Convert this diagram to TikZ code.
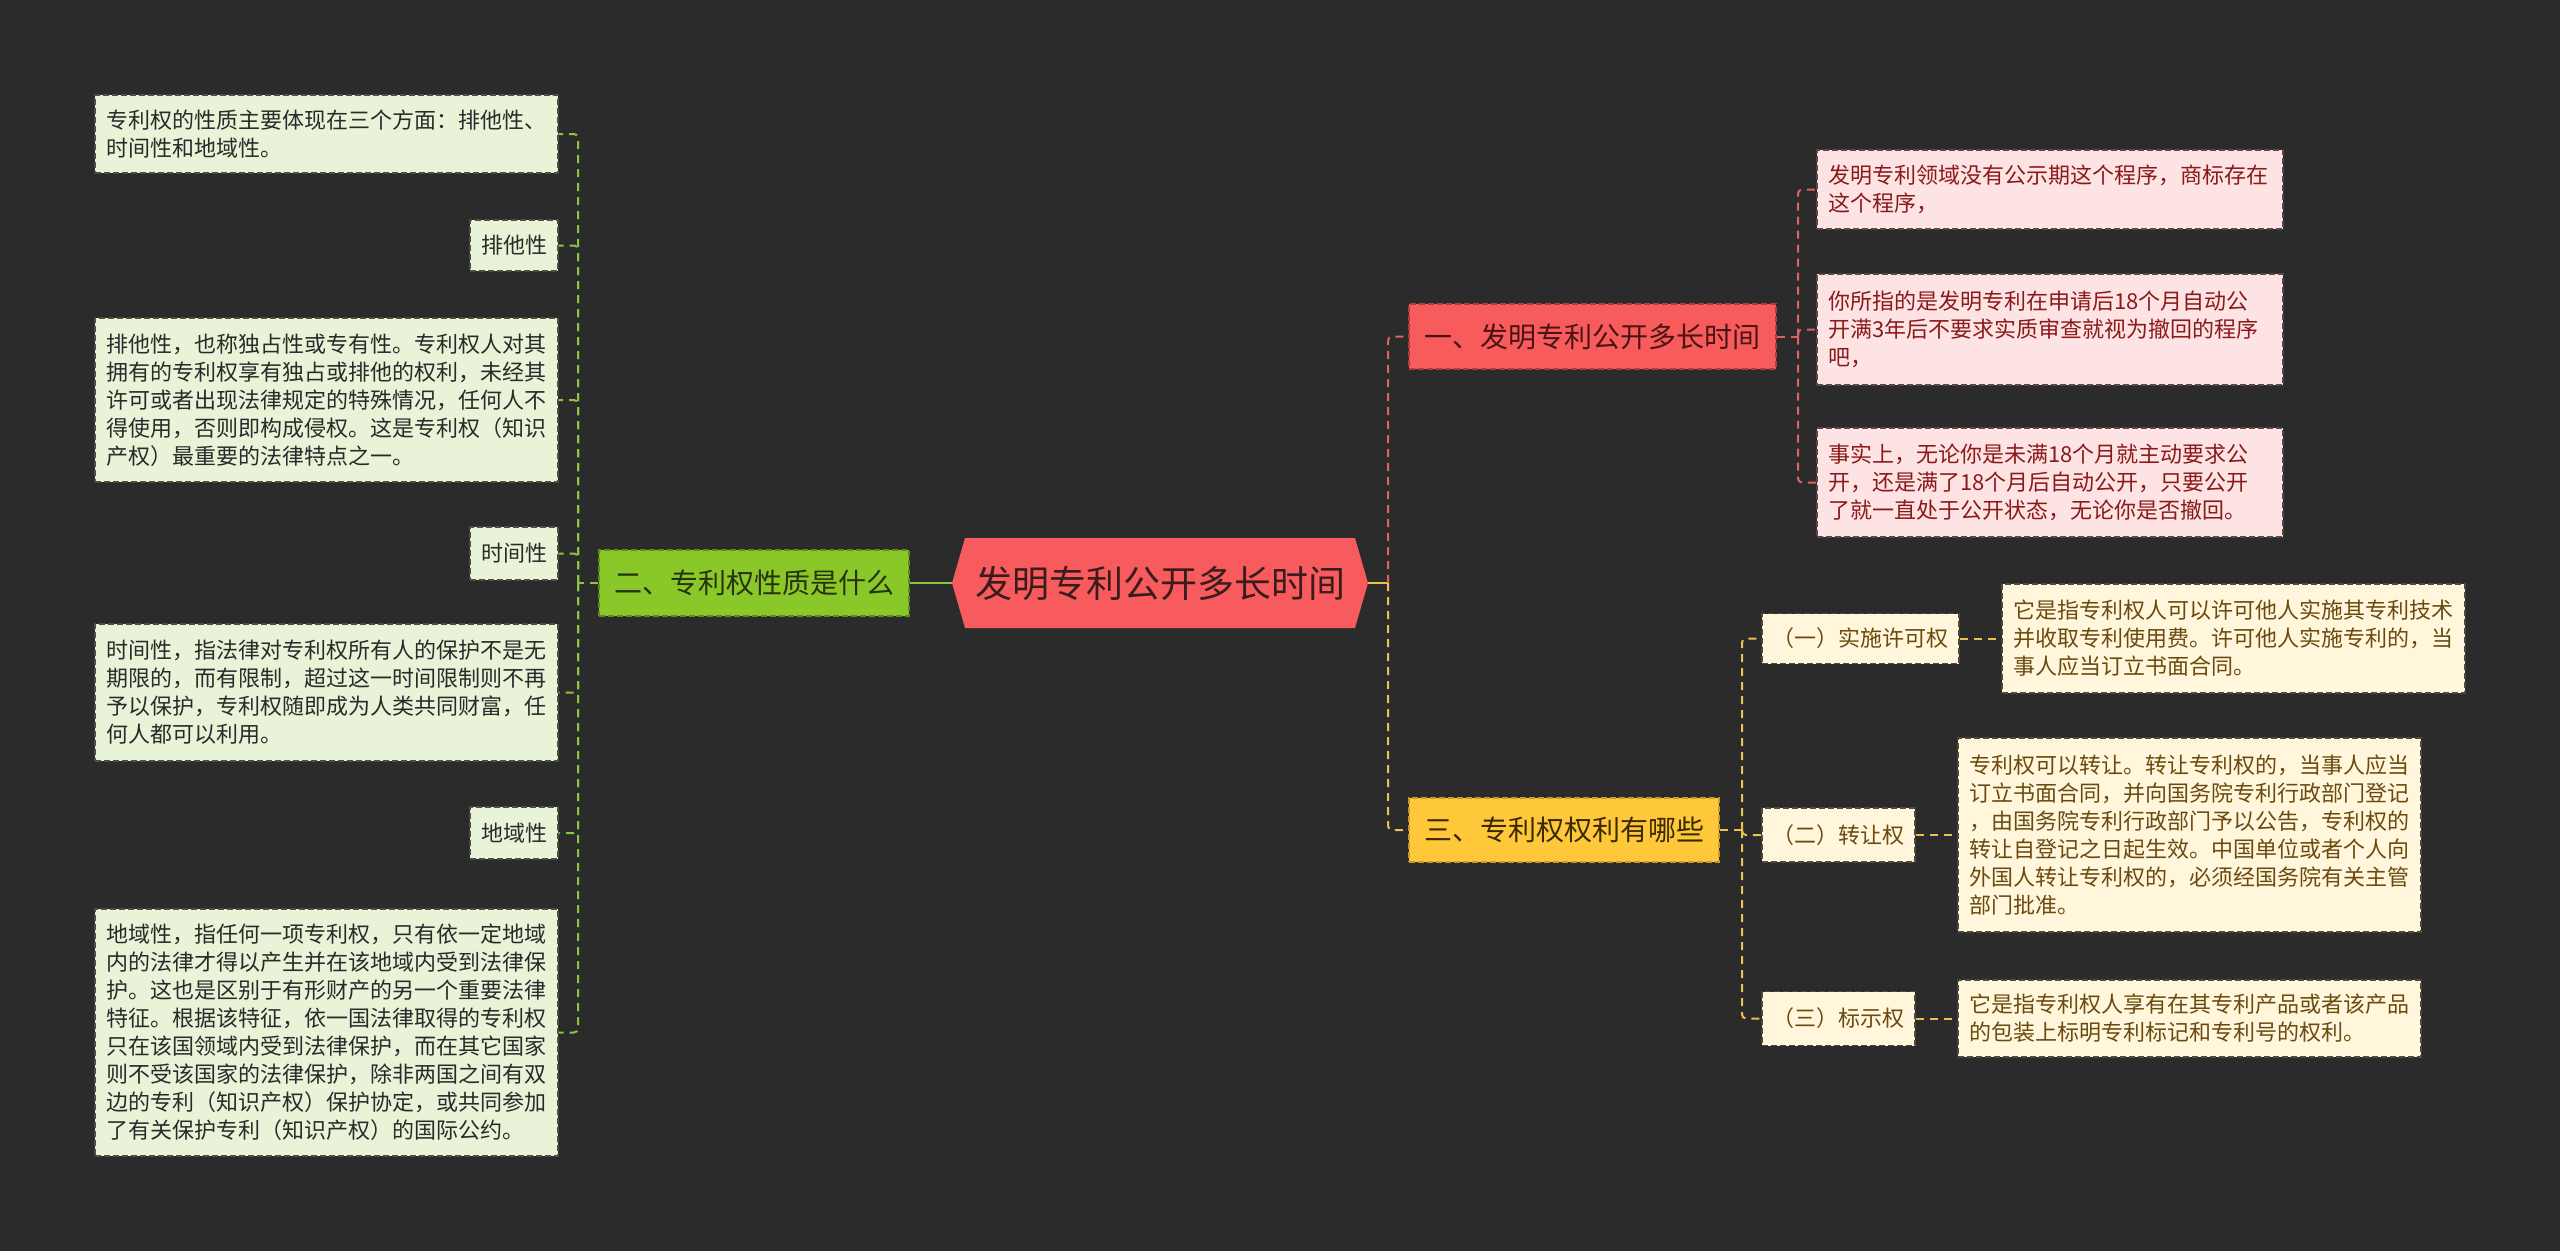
\documentclass[tikz,border=0pt]{standalone}
\usepackage{fontspec}
\setmainfont{Noto Sans CJK SC}
\usepackage{xcolor}
\usepackage{tikz}
\usetikzlibrary{calc}
\definecolor{bg}{HTML}{2B2B2B}
\definecolor{rootfill}{HTML}{F75B5D}
\definecolor{roottext}{HTML}{3A1C1C}
\definecolor{gfill}{HTML}{8AC82A}
\definecolor{gborder}{HTML}{5E8C1C}
\definecolor{gtext}{HTML}{26330E}
\definecolor{gleaffill}{HTML}{E9F3D8}
\definecolor{gleafborder}{HTML}{4A4F44}
\definecolor{gleaftext}{HTML}{2A2A2A}
\definecolor{gline}{HTML}{8CC63F}
\definecolor{rfill}{HTML}{F85B5B}
\definecolor{rborder}{HTML}{B23C3C}
\definecolor{rtext}{HTML}{4A1414}
\definecolor{rleaffill}{HTML}{FDE3E3}
\definecolor{rleafborder}{HTML}{5A4646}
\definecolor{rleaftext}{HTML}{8A1A1A}
\definecolor{rline}{HTML}{E26060}
\definecolor{yfill}{HTML}{FFC83A}
\definecolor{yborder}{HTML}{C99A2A}
\definecolor{ytext}{HTML}{3A2A00}
\definecolor{yleaffill}{HTML}{FFF6DC}
\definecolor{yleafborder}{HTML}{4E4A3C}
\definecolor{yleaftext}{HTML}{6B4A10}
\definecolor{yline}{HTML}{EAC250}
\tikzset{
  rootnode/.style={minimum width=416pt, minimum height=88pt, inner sep=0pt, text=roottext, font=\fontsize{37}{44}\selectfont},
  topic/.style={draw, dash pattern=on 6pt off 3pt, line width=1.4pt, inner sep=0pt, font=\fontsize{28}{34}\selectfont},
  gtopic/.style={topic, fill=gfill, draw=gborder, text=gtext},
  rtopic/.style={topic, fill=rfill, draw=rborder, text=rtext},
  ytopic/.style={topic, fill=yfill, draw=yborder, text=ytext},
  leaf/.style={draw, dash pattern=on 6pt off 3pt, line width=1.4pt, inner xsep=11pt, inner ysep=0pt, align=left, font=\fontsize{22}{28}\selectfont},
  gleaf/.style={leaf, fill=gleaffill, draw=gleafborder, text=gleaftext, text width=441pt},
  rleaf/.style={leaf, fill=rleaffill, draw=rleafborder, text=rleaftext, text width=444pt},
  yleaf/.style={leaf, fill=yleaffill, draw=yleafborder, text=yleaftext, text width=441pt},
  tag/.style={draw, dash pattern=on 6pt off 3pt, line width=1.4pt, inner sep=0pt, align=center, font=\fontsize{22}{28}\selectfont},
  gtag/.style={tag, fill=gleaffill, draw=gleafborder, text=gleaftext},
  ytag/.style={tag, fill=yleaffill, draw=yleafborder, text=yleaftext},
  conn/.style={line width=2pt, dash pattern=on 8pt off 6pt, rounded corners=4pt},
}

\begin{document}
\begin{tikzpicture}[x=1pt, y=-1pt]
  \fill[bg] (0,0) rectangle (2560,1251);
  \useasboundingbox (0,0) rectangle (2560,1251);

  % root
  \fill[rootfill] (952,583) -- (965,538) -- (1355,538) -- (1368,583) -- (1355,628) -- (965,628) -- cycle;
  \node[rootnode] (root) at (1160,583) {发明专利公开多长时间};

  % left branch
  \node[gtopic, minimum width=310pt, minimum height=66pt] (nature) at (754,583) {二、专利权性质是什么};
  \node[gleaf, minimum height=78pt] (l1) at (326.5,134) {专利权的性质主要体现在三个方面：排他性、\\时间性和地域性。};
  \node[gtag, minimum width=88pt, minimum height=51pt] (l2) at (514,245.5) {排他性};
  \node[gleaf, minimum height=164pt] (l3) at (326.5,400) {排他性，也称独占性或专有性。专利权人对其\\拥有的专利权享有独占或排他的权利，未经其\\许可或者出现法律规定的特殊情况，任何人不\\得使用，否则即构成侵权。这是专利权（知识\\产权）最重要的法律特点之一。};
  \node[gtag, minimum width=88pt, minimum height=53pt] (l4) at (514,553.5) {时间性};
  \node[gleaf, minimum height=137pt] (l5) at (326.5,692.5) {时间性，指法律对专利权所有人的保护不是无\\期限的，而有限制，超过这一时间限制则不再\\予以保护，专利权随即成为人类共同财富，任\\何人都可以利用。};
  \node[gtag, minimum width=88pt, minimum height=52pt] (l6) at (514,833) {地域性};
  \node[gleaf, minimum height=247pt] (l7) at (326.5,1032.5) {地域性，指任何一项专利权，只有依一定地域\\内的法律才得以产生并在该地域内受到法律保\\护。这也是区别于有形财产的另一个重要法律\\特征。根据该特征，依一国法律取得的专利权\\只在该国领域内受到法律保护，而在其它国家\\则不受该国家的法律保护，除非两国之间有双\\边的专利（知识产权）保护协定，或共同参加\\了有关保护专利（知识产权）的国际公约。};

  \coordinate (ltrunk) at (578,583);
  \draw[gline, line width=2pt] (nature.east) -- (root.west);
  \draw[gline, conn] (nature.west) -- (ltrunk);
  \foreach \n in {l1,l2,l3,l4,l5,l6,l7}
    \draw[gline, conn] (ltrunk) |- (\n.east);

  % right branch, part one
  \node[rtopic, minimum width=367pt, minimum height=65pt] (pub) at (1592.5,336.5) {一、发明专利公开多长时间};
  \node[rleaf, minimum height=79pt] (r1) at (2050,189.5) {发明专利领域没有公示期这个程序，商标存在\\这个程序，};
  \node[rleaf, minimum height=111pt] (r2) at (2050,329.5) {你所指的是发明专利在申请后18个月自动公\\开满3年后不要求实质审查就视为撤回的程序\\吧，};
  \node[rleaf, minimum height=109pt] (r3) at (2050,482.5) {事实上，无论你是未满18个月就主动要求公\\开，还是满了18个月后自动公开，只要公开\\了就一直处于公开状态，无论你是否撤回。};

  \coordinate (rtrunk) at (1388,583);
  \coordinate (ptrunk) at (1798,336.5);
  \draw[yline, line width=2pt] (root.east) -- (rtrunk);
  \draw[rline, conn] (rtrunk) |- (pub.west);
  \draw[rline, conn] (pub.east) -- (ptrunk);
  \foreach \n in {r1,r2,r3}
    \draw[rline, conn] (ptrunk) |- (\n.west);

  % right branch, part three
  \node[ytopic, minimum width=310pt, minimum height=64pt] (rights) at (1564,830) {三、专利权权利有哪些};
  \node[ytag, minimum width=197pt, minimum height=50pt] (m1) at (1860.5,638.5) {（一）实施许可权};
  \node[ytag, minimum width=153pt, minimum height=54pt] (m2) at (1838.5,835) {（二）转让权};
  \node[ytag, minimum width=153pt, minimum height=54pt] (m3) at (1838.5,1018.5) {（三）标示权};
  \node[yleaf, minimum height=109pt] (y1) at (2233.5,638.5) {它是指专利权人可以许可他人实施其专利技术\\并收取专利使用费。许可他人实施专利的，当\\事人应当订立书面合同。};
  \node[yleaf, minimum height=194pt] (y2) at (2189.5,835) {专利权可以转让。转让专利权的，当事人应当\\订立书面合同，并向国务院专利行政部门登记\\，由国务院专利行政部门予以公告，专利权的\\转让自登记之日起生效。中国单位或者个人向\\外国人转让专利权的，必须经国务院有关主管\\部门批准。};
  \node[yleaf, minimum height=77pt] (y3) at (2189.5,1018.5) {它是指专利权人享有在其专利产品或者该产品\\的包装上标明专利标记和专利号的权利。};

  \coordinate (ytrunk) at (1742,830);
  \draw[yline, conn] (rtrunk) |- (rights.west);
  \draw[yline, conn] (rights.east) -- (ytrunk);
  \foreach \n in {m1,m2,m3}
    \draw[yline, conn] (ytrunk) |- (\n.west);
  \draw[yline, conn] (m1.east) -- (y1.west);
  \draw[yline, conn] (m2.east) -- (y2.west);
  \draw[yline, conn] (m3.east) -- (y3.west);
\end{tikzpicture}
\end{document}
